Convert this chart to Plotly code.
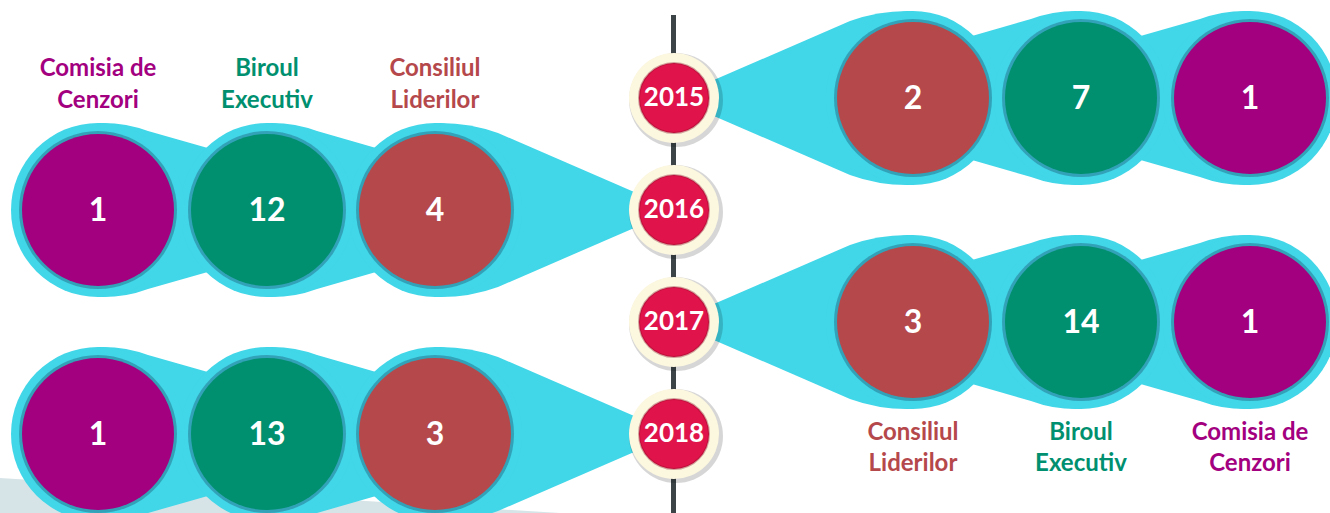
import plotly.graph_objects as go

# ---------------- data ----------------
years = [2015, 2016, 2017, 2018]
consiliul_liderilor = [2, 4, 3, 3]
biroul_executiv = [7, 12, 14, 13]
comisia_de_cenzori = [1, 1, 1, 1]
categories = ["Consiliul Liderilor", "Biroul Executiv", "Comisia de Cenzori"]

# ---------------- style / layout ----------------
W, H = 1330, 513
TX = 674                      # timeline x
YEAR_Y = [98, 210, 322, 434]  # vertical position of each year node
SIDES = [1, -1, 1, -1]        # right / left placement
OFFS = [239, 407, 576]        # distance of the three circles from the timeline
R_C, R_CY = 76, 87
COL = {"Consiliul Liderilor": "#b5484b", "Biroul Executiv": "#009070", "Comisia de Cenzori": "#a3007f"}
CYAN = "#41d6e8"
FONT = "Lato, 'Open Sans', sans-serif"

series = {"Consiliul Liderilor": consiliul_liderilor,
          "Biroul Executiv": biroul_executiv,
          "Comisia de Cenzori": comisia_de_cenzori}

shapes = []

def circ(cx, cy, r, fill, line=None, lw=0):
    shapes.append(dict(type="circle", xref="x", yref="y", layer="below",
                       x0=cx - r, x1=cx + r, y0=cy - r, y1=cy + r,
                       fillcolor=fill, line=dict(width=lw, color=line or fill)))

def path_from(pts_cmds, side, yc):
    s = ""
    for cmd, *pts in pts_cmds:
        s += cmd
        for (u, v) in pts:
            s += f" {TX + side * u:.1f},{yc + v:.1f}"
        s += " "
    return s + "Z"

# background grey band bottom-left
shapes.append(dict(type="path", layer="below", path="M 0,478 L 560,513 L 0,513 Z",
                   fillcolor="#d6e4e8", line=dict(width=0)))

# timeline
shapes.append(dict(type="line", layer="below", x0=TX - 0.5, x1=TX - 0.5, y0=15, y1=H,
                   line=dict(color="#3c4448", width=5)))

# cyan blobs
for yc, side in zip(YEAR_Y, SIDES):
    u0 = OFFS[0]
    first = [("M", (26, -12)), ("L", (176, -77)), ("Q", (206, -88), (u0, -87)),
             ("L", (u0, 87)), ("Q", (206, 88), (176, 77)), ("L", (26, 12))]
    shapes.append(dict(type="path", layer="below", path=path_from(first, side, yc),
                       fillcolor=CYAN, line=dict(width=0)))
    for k in range(1, 3):
        up, uc = OFFS[k - 1], OFFS[k]
        tail = [("M", (up, -45)), ("L", (uc - 50, -79)), ("Q", (uc - 26, -88), (uc, -87)),
                ("L", (uc, 87)), ("Q", (uc - 26, 88), (uc - 50, 79)), ("L", (up, 45))]
        shapes.append(dict(type="path", layer="below", path=path_from(tail, side, yc),
                           fillcolor=CYAN, line=dict(width=0)))
    for u in OFFS:
        circ(TX + side * u, yc, R_CY, CYAN)

# coloured circles
num_x, num_y, num_t = [], [], []
for i, (yc, side) in enumerate(zip(YEAR_Y, SIDES)):
    for cat, u in zip(categories, OFFS):
        cx = TX + side * u
        circ(cx, yc, R_C + 3, "rgba(35,110,135,0.5)")
        circ(cx, yc, R_C, COL[cat])
        num_x.append(cx)
        num_y.append(yc + 3)
        num_t.append(str(series[cat][i]))

# year nodes
for yc in YEAR_Y:
    circ(TX + 2, yc + 2, 47, "rgba(0,0,0,0.16)")
    circ(TX, yc, 45, "#fcf7df")
    circ(TX, yc, 35, "#e0144a", line="rgba(130,0,30,0.35)", lw=2)

fig = go.Figure()

fig.add_trace(go.Scatter(x=num_x, y=num_y, text=num_t, mode="text",
                         textfont=dict(family=FONT, size=32, color="white", weight="bold"),
                         hoverinfo="skip", showlegend=False))

fig.add_trace(go.Scatter(x=[TX] * len(years), y=[y + 1 for y in YEAR_Y], text=[str(y) for y in years],
                         mode="text",
                         textfont=dict(family=FONT, size=26, color="white", weight="bold"),
                         hoverinfo="skip", showlegend=False))

# category labels (left group on top, right group below)
for side, ys in ((-1, (70, 102)), (1, (434, 465))):
    for cat, u in zip(categories, OFFS):
        lines = cat.rsplit(" ", 1)
        fig.add_trace(go.Scatter(x=[TX + side * u] * 2, y=list(ys), text=lines, mode="text",
                                 textfont=dict(family=FONT, size=24, color=COL[cat], weight="bold"),
                                 hoverinfo="skip", showlegend=False))

fig.update_layout(width=W, height=H, margin=dict(l=0, r=0, t=0, b=0),
                  paper_bgcolor="white", plot_bgcolor="white", shapes=shapes,
                  xaxis=dict(range=[0, W], visible=False, fixedrange=True),
                  yaxis=dict(range=[H, 0], visible=False, fixedrange=True),
                  showlegend=False)

fig.write_html("out.html", config={"displayModeBar": False},
               post_script="document.body.style.margin='0';document.body.style.padding='0';")
